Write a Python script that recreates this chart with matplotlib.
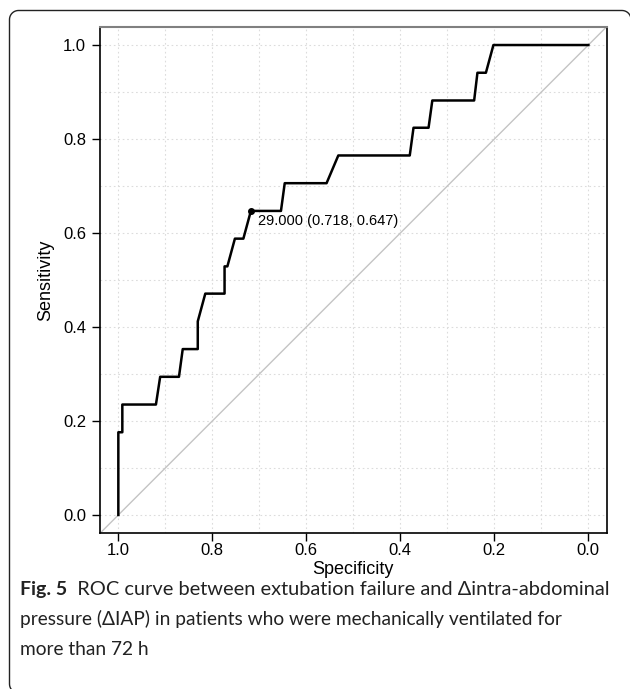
import numpy as np
import matplotlib
matplotlib.use("Agg")
import matplotlib.pyplot as plt
from matplotlib.lines import Line2D

# ROC curve (specificity goes from 1 to 0)
specificity = [1.0, 1.0, 0.9915, 0.9915, 0.920, 0.911, 0.871, 0.863, 0.831, 0.831,
               0.815, 0.774, 0.774, 0.768, 0.752, 0.734, 0.718, 0.654, 0.646, 0.557,
               0.532, 0.380, 0.372, 0.340, 0.332, 0.243, 0.236, 0.218, 0.202, 0.0]
sensitivity = [0.0, 0.176, 0.176, 0.235, 0.235, 0.294, 0.294, 0.353, 0.353, 0.412,
               0.471, 0.471, 0.529, 0.529, 0.588, 0.588, 0.647, 0.647, 0.706, 0.706,
               0.765, 0.765, 0.824, 0.824, 0.882, 0.882, 0.941, 0.941, 1.0, 1.0]
best_spec = 0.718
best_sens = 0.647
best_threshold = 29.000
ticks = [0.0, 0.2, 0.4, 0.6, 0.8, 1.0]

caption_bold = "Fig. 5"
caption_line1 = "  ROC curve between extubation failure and \u0394intra-abdominal"
caption_line2 = "pressure (\u0394IAP) in patients who were mechanically ventilated for"
caption_line3 = "more than 72 h"

plt.rcParams["font.family"] = ["Liberation Sans", "DejaVu Sans"]

fig = plt.figure(figsize=(6.3, 6.89), dpi=100)
ax = fig.add_axes([100 / 630, 1 - 533.3 / 689, 506.7 / 630, 506.6 / 689])

# grid every 0.1
for g in np.arange(0, 1.01, 0.1):
    ax.axvline(g, color="#dcdcdc", lw=0.8, ls=(0, (1.5, 2.5)), zorder=0)
    ax.axhline(g, color="#dcdcdc", lw=0.8, ls=(0, (1.5, 2.5)), zorder=0)

ax.axline((1, 0), (0, 1), color="#c4c4c4", lw=1.0, zorder=1)
ax.plot(specificity, sensitivity, color="black", lw=1.8, zorder=3)
ax.plot([best_spec], [best_sens], "o", color="black", ms=4, zorder=4)
ax.annotate("{:.3f} ({:.3f}, {:.3f})".format(best_threshold, best_spec, best_sens),
            xy=(best_spec, best_sens), xytext=(5, -2), textcoords="offset points",
            ha="left", va="top", fontsize=10.5)

ax.set_xlim(1.039, -0.039)
ax.set_ylim(-0.039, 1.039)
ax.set_xticks(ticks)
ax.set_yticks(ticks)
ax.set_xticklabels(["{:.1f}".format(t) for t in ticks])
ax.set_yticklabels(["{:.1f}".format(t) for t in ticks])
ax.tick_params(direction="out", length=6, width=1, labelsize=12)
ax.tick_params(axis="x", pad=1)
ax.tick_params(axis="y", pad=4)
for side in ["left", "bottom", "right"]:
    ax.spines[side].set_color("black")
    ax.spines[side].set_linewidth(1.2)
ax.spines["top"].set_color("#808080")
ax.spines["top"].set_linewidth(1.5)
ax.set_xlabel("Specificity", fontsize=13, labelpad=2)
ax.set_ylabel("Sensitivity", fontsize=13, labelpad=6)

# caption
cap_font = ["Lato", "DejaVu Sans"]
t_bold = fig.text(20 / 630, 1 - 595 / 689, caption_bold, fontsize=14,
                  fontweight="bold", family=cap_font, color="#222222")
ax.annotate(caption_line1, xy=(1, 0), xycoords=t_bold, ha="left", va="bottom",
            fontsize=14.4, family=cap_font, color="#222222", annotation_clip=False)
fig.text(20 / 630, 1 - 625 / 689, caption_line2, fontsize=13.8, family=cap_font, color="#222222")
fig.text(20 / 630, 1 - 655 / 689, caption_line3, fontsize=13.8, family=cap_font, color="#222222")

# rounded frame around the figure (pixels, origin bottom-left), built as a polyline
x0, x1, y0, y1, r = 9.5, 631.0, -4.0, 678.5, 9.0
a = np.linspace(0, np.pi / 2, 12)
fx = np.concatenate([x1 - r + r * np.cos(a), x0 + r - r * np.sin(a),
                     x0 + r - r * np.cos(a)])
fy = np.concatenate([y1 - r + r * np.sin(a), y1 - r + r * np.cos(a),
                     y0 + r - r * np.sin(a)])
frame = Line2D(fx[::-1][::-1] / 100, fy / 100, transform=fig.dpi_scale_trans,
               color="#222222", lw=1.0)
fig.add_artist(frame)

fig.savefig("out.png", dpi=100)
